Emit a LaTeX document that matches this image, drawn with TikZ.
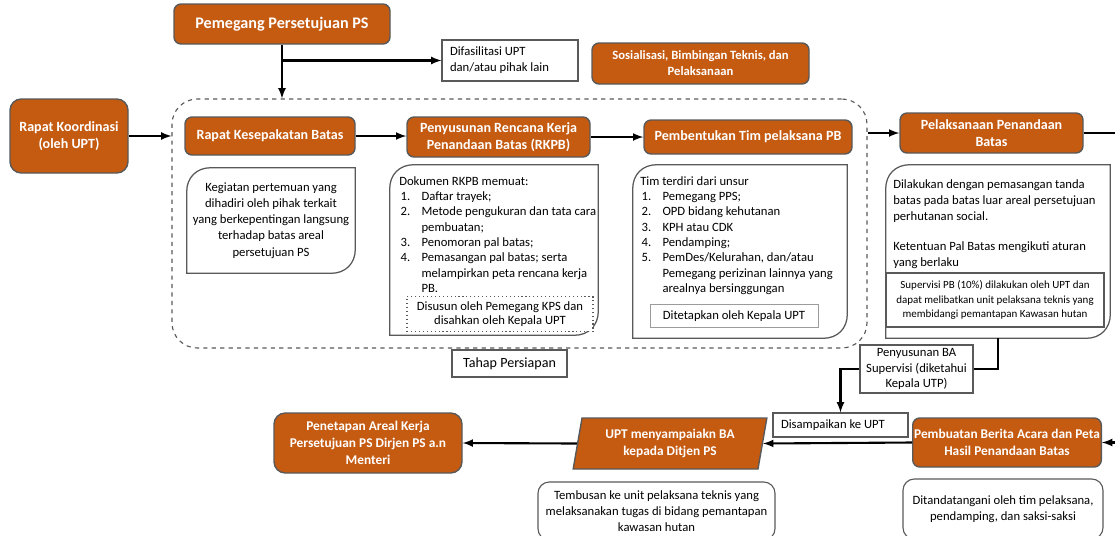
\documentclass[tikz,border=0pt]{standalone}
\usepackage{fontspec}
\setmainfont{Carlito}
\usetikzlibrary{shapes.geometric,arrows}
\definecolor{psorange}{HTML}{C55A11}
\definecolor{boxgray}{HTML}{595959}
\newcommand{\pxu}{0.025cm}
\newcommand{\fs}[2]{\fontsize{#1}{#2}\selectfont}
\tikzset{
  orangebox/.style={draw=boxgray, fill=psorange, line width=1pt, rounded corners=5pt, text=white, align=center, font=\bfseries\fs{10}{12}, inner sep=1pt},
  plainbox/.style={draw=boxgray, line width=0.8pt, align=center, font=\fs{9}{11.3}, inner sep=2pt},
  notebox/.style={inner sep=0pt, align=center, font=\fs{9}{11.5}},
  notetext/.style={anchor=north west, align=flush left, font=\fs{9}{10.9}, inner sep=0pt},
  flow/.style={-latex, line width=1.5pt},
}
% outline with two rounded corners (top left, bottom right)
\newcommand{\notecorner}[1]{%
  \draw[boxgray, line width=0.9pt] ([yshift=-17pt]#1.north west) .. controls ([yshift=-7pt]#1.north west) and ([xshift=7pt]#1.north west) .. ([xshift=17pt]#1.north west) -- (#1.north east) -- ([yshift=17pt]#1.south east) .. controls ([yshift=7pt]#1.south east) and ([xshift=-7pt]#1.south east) .. ([xshift=-17pt]#1.south east) -- (#1.south west) -- cycle;}
\begin{document}
\begin{tikzpicture}[x=\pxu, y=-\pxu]
  \useasboundingbox (0,0) rectangle (1115,535);
  % top row
  \node[orangebox, minimum width=216*\pxu, minimum height=40*\pxu, font=\bfseries\fs{11.5}{13}] (pemegang) at (282,24) {Pemegang Persetujuan PS};
  \node[plainbox, align=flush left, text width=120*\pxu, inner xsep=8*\pxu, minimum height=41*\pxu] (fasilitasi) at (510,60.5) {Difasilitasi UPT\\dan/atau pihak lain};
  \node[orangebox, minimum width=217*\pxu, minimum height=41*\pxu, font=\bfseries\fs{9}{11.5}] (sosialisasi) at (700.5,63.5) {Sosialisasi, Bimbingan Teknis, dan\\Pelaksanaan};
  \node[orangebox, minimum width=118*\pxu, minimum height=74*\pxu, rounded corners=8pt] (koordinasi) at (69,136) {Rapat Koordinasi\\(oleh UPT)};
  % tahap persiapan
  \node[draw=boxgray, dashed, line width=0.8pt, rounded corners=18pt, minimum width=695*\pxu, minimum height=249*\pxu] (persiapan) at (519.5,223.5) {};
  \node[orangebox, minimum width=170*\pxu, minimum height=38*\pxu] (kesepakatan) at (270,136) {Rapat Kesepakatan Batas};
  \node[orangebox, minimum width=183*\pxu, minimum height=40*\pxu] (rkpb) at (498.5,137) {Penyusunan Rencana Kerja\\Penandaan Batas (RKPB)};
  \node[orangebox, minimum width=208*\pxu, minimum height=34*\pxu] (tim) at (748,137) {Pembentukan Tim pelaksana PB};
  \node[plainbox, minimum width=115*\pxu, minimum height=27*\pxu, font=\fs{10}{12}] (tahap) at (509.5,363.5) {Tahap Persiapan};

  \node[notebox, minimum width=168*\pxu, minimum height=105*\pxu] (kegiatannote) at (271,220.5) {Kegiatan pertemuan yang\\dihadiri oleh pihak terkait\\yang berkepentingan langsung\\terhadap batas areal\\persetujuan PS};
  \notecorner{kegiatannote}

  \node[notebox, minimum width=208*\pxu, minimum height=170*\pxu] (rkpbnote) at (494,250) {};
  \notecorner{rkpbnote}
  \node[notetext] (rkpbtext) at (399,176) {Dokumen RKPB memuat:\\
    \begin{tabular}[t]{@{\hspace{1pt}}l@{\hspace{8pt}}p{4.5cm}@{}}
      1. & Daftar trayek;\\
      2. & Metode pengukuran dan tata cara\newline pembuatan;\\
      3. & Penomoran pal batas;\\
      4. & Pemasangan pal batas; serta\newline melampirkan peta rencana kerja\newline PB.
    \end{tabular}};
  \node[draw=boxgray, dotted, line width=0.8pt, minimum width=186*\pxu, minimum height=34*\pxu, align=center, font=\fs{9}{10.5}, fill=white] (disusun) at (500,314) {Disusun oleh Pemegang KPS dan\\disahkan oleh Kepala UPT};

  \node[notebox, minimum width=214*\pxu, minimum height=173*\pxu] (timnote) at (740,251.5) {};
  \notecorner{timnote}
  \node[notetext] (timtext) at (640,176) {Tim terdiri dari unsur\\
    \begin{tabular}[t]{@{\hspace{1pt}}l@{\hspace{8pt}}p{4.7cm}@{}}
      1. & Pemegang PPS;\\
      2. & OPD bidang kehutanan\\
      3. & KPH atau CDK\\
      4. & Pendamping;\\
      5. & PemDes/Kelurahan, dan/atau\newline Pemegang perizinan lainnya yang\newline arealnya bersinggungan
    \end{tabular}};
  \node[draw=boxgray!60, line width=0.6pt, minimum width=168*\pxu, minimum height=23*\pxu, font=\fs{9}{11}] (ditetapkan) at (734,316) {Ditetapkan oleh Kepala UPT};

  % pelaksanaan
  \node[orangebox, minimum width=183*\pxu, minimum height=40*\pxu] (pelaksanaan) at (991.5,133) {Pelaksanaan Penandaan\\Batas};
  \node[notebox, minimum width=224*\pxu, minimum height=173*\pxu] (pelaknote) at (998,251.5) {};
  \notecorner{pelaknote}
  \node[notetext, font=\fs{9}{11.4}] (pelaktext) at (893,179) {Dilakukan dengan pemasangan tanda\\batas pada batas luar areal persetujuan\\perhutanan social.\\[10pt]Ketentuan Pal Batas mengikuti aturan\\yang berlaku};
  \node[draw=boxgray, line width=0.8pt, minimum width=218*\pxu, minimum height=54*\pxu, align=center, font=\fs{7.8}{10.6}] (supervisi) at (995,300) {Supervisi PB (10\%) dilakukan oleh UPT dan\\dapat melibatkan unit pelaksana teknis yang\\membidangi pemantapan Kawasan hutan};

  % bottom row
  \node[plainbox, minimum width=113*\pxu, minimum height=48*\pxu] (bakasi) at (916.5,369) {Penyusunan BA\\Supervisi (diketahui\\Kepala UTP)};
  \node[plainbox, align=flush left, text width=119*\pxu, inner xsep=8*\pxu, minimum height=24*\pxu] (disampaikan) at (840.5,425) {Disampaikan ke UPT};
  \node[orangebox, minimum width=188*\pxu, minimum height=49*\pxu, font=\bfseries\fs{9.5}{12}] (beritaacara) at (1007,442.5) {Pembuatan Berita Acara dan Peta\\Hasil Penandaan Batas};
  \node[orangebox, trapezium, trapezium left angle=78, trapezium right angle=102, trapezium stretches=true, rounded corners=0pt, minimum width=194*\pxu, minimum height=51*\pxu, font=\bfseries\fs{9.5}{12}] (uptba) at (670,443.5) {UPT menyampaiakn BA\\kepada Ditjen PS};
  \node[orangebox, minimum width=188*\pxu, minimum height=60*\pxu, rounded corners=8pt, font=\bfseries\fs{9.5}{12}] (penetapan) at (368,443) {Penetapan Areal Kerja\\Persetujuan PS Dirjen PS a.n\\Menteri};
  \node[plainbox, rounded corners=8pt, minimum width=237*\pxu, minimum height=58*\pxu] (tembusan) at (656.5,511) {Tembusan ke unit pelaksana teknis yang\\melaksanakan tugas di bidang pemantapan\\kawasan hutan};
  \node[plainbox, rounded corners=8pt, minimum width=200*\pxu, minimum height=60*\pxu] (ttd) at (1003,509) {Ditandatangani oleh tim pelaksana,\\pendamping, dan saksi-saksi};

  % connectors
  \coordinate (cabang) at (pemegang.south |- fasilitasi.west);
  \coordinate (tepi) at (1140,133);
  \draw[flow] (pemegang.south) -- (pemegang.south |- persiapan.north);
  \draw[flow] (cabang) -- (fasilitasi.west);
  \draw[flow] (koordinasi.east) -- (koordinasi.east -| persiapan.west);
  \draw[flow] (kesepakatan.east) -- (kesepakatan.east -| rkpb.west);
  \draw[flow] (rkpb.east) -- (tim.west);
  \draw[flow] (persiapan.east |- pelaksanaan.west) -- (pelaksanaan.west);
  \draw[flow] (pelaksanaan.east) -- (tepi) |- (beritaacara.east);
  \draw[line width=1.5pt] (pelaknote.south) |- (bakasi.east);
  \draw[flow] (bakasi.west) -| (disampaikan.north);
  \draw[flow] (beritaacara.west) -- (uptba.east);
  \draw[flow] (uptba.west) -- (penetapan.east);
\end{tikzpicture}
\end{document}
